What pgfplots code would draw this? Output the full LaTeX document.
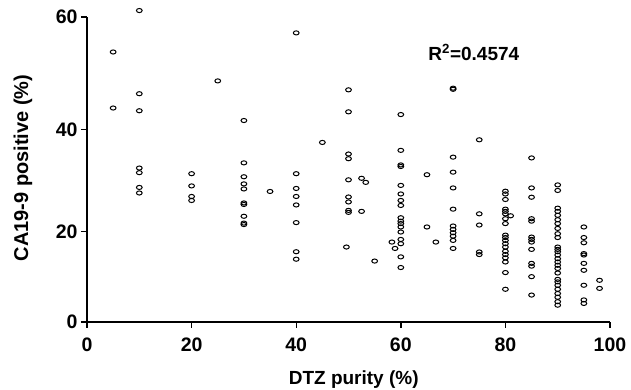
\documentclass[border=0pt]{standalone}
\usepackage{pgfplots}
\pgfplotsset{compat=1.18}
\usepackage{fontspec}
\setmainfont{Liberation Sans}
\begin{document}
\begin{tikzpicture}
\begin{axis}[
  at={(0,0)}, anchor=south west,
  scale only axis, width=523pt, height=305pt,
  xmin=0, xmax=100, ymin=0, ymax=60,
  y coord trafo/.code={\pgfmathparse{#1+0.003216*#1*#1}},
  axis x line*=bottom, axis y line*=left,
  axis line style={line width=1.6pt, black, -},
  xtick={0,20,40,60,80,100},
  ytick={0,20,40,60}, yticklabels={0,20,40,60},
  tick align=outside, major tick length=6pt,
  tick style={line width=1.4pt, black},
  /pgf/number format/assume math mode=true,
  tick label style={font=\fontsize{19.5}{22}\selectfont\bfseries},
  xticklabel style={yshift=-6pt},
  xlabel={DTZ purity (\%)}, ylabel={CA19-9 positive (\%)},
  xlabel style={font=\fontsize{19}{22}\selectfont\bfseries, at={(axis description cs:0.51,-0.205)}, anchor=base},
  ylabel style={font=\fontsize{20}{23}\selectfont\bfseries, at={(axis description cs:-0.1128,0.505)}, anchor=base},
  clip=false,
]
\addplot[only marks, mark=o, mark size=2.3pt, mark options={line width=1pt, xscale=1.25, yscale=0.9, black}] coordinates {
(5,54.0) (5,44.0)
(10,61.1) (10,46.6) (10,43.5) (10,32.7) (10,31.8) (10,28.9) (10,27.8)
(20,31.6) (20,29.2) (20,27.1) (20,26.3)
(25,48.9)
(30,41.7) (30,33.7) (30,31.0) (30,29.6) (30,28.6) (30,25.8) (30,25.5) (30,23.1) (30,21.7) (30,21.4)
(35,28.1)
(40,57.3) (40,31.6) (40,28.7) (40,27.1) (40,25.4) (40,21.8) (40,15.7) (40,14.1)
(45,37.6)
(50,47.3) (50,43.3) (50,35.4) (50,34.5) (50,30.4) (50,27.0) (50,26.0) (50,24.3) (50,23.9) (49.6,16.7)
(52.5,30.7) (52.5,24.1) (53.3,29.9)
(55,13.7) (58.3,17.75) (58.9,16.4)
(60,42.8) (60,36.1) (60,33.3) (60,33.0) (60,29.3) (60,27.6) (60,26.3) (60,25.3) (60,22.8) (60,22.1) (60,21.6) (60,20.9) (60,19.85) (60,18.3) (60,17.4) (60,14.6) (60,12.3)
(65,31.4) (65,20.9) (66.7,17.75)
(70,47.4) (70,47.6) (70,34.8) (70,31.9) (70,28.8) (70,24.55) (70,21.1) (70,20.4) (70,19.7) (70,19.0) (70,18.1) (70,16.4)
(75,38.1) (75,23.6) (75,21.3) (75,15.65) (75,15.1)
(80,28.15) (80,27.6) (80,26.5) (80,24.55) (80,24.1) (80,23.6) (80,22.6) (80,21.6) (80,19.2) (80,18.7) (80,18.1) (80,17.4) (80,16.7) (80,15.8) (80,15.1) (80,14.4) (80,13.5) (80,11.2) (80,7.5)
(81,23.2)
(85,34.65) (85,28.8) (85,26.95) (85,22.6) (85,22.1) (85,18.8) (85,18.3) (85,17.75) (85,16.2) (85,13.2) (85,12.6) (85,10.3) (85,6.2)
(90,29.4) (90,28.3) (90,24.75) (90,24.1) (90,23.3) (90,22.4) (90,21.6) (90,20.6) (90,19.5) (90,18.7) (90,16.7) (90,16.2) (90,15.7) (90,15.0) (90,14.2) (90,13.5) (90,12.8) (90,12.1) (90,11.1) (90,9.7) (90,9.15) (90,8.4) (90,7.5) (90,6.55) (90,5.7) (90,4.7) (90,3.9)
(95,20.9) (95,18.7) (95,17.6) (95,15.3) (95,15.0) (95,13.2) (95,11.7) (95,8.4) (95,5.1) (95,4.3)
(98,9.5) (98,7.7)
};
\node[anchor=base west, font=\fontsize{19}{22}\selectfont\bfseries] at (rel axis cs:0.646,0.859) {R\textsuperscript{2}=0.4574};
\end{axis}
\pgfresetboundingbox
\useasboundingbox (-87pt,-68pt) rectangle (544pt,322pt);
\end{tikzpicture}
\end{document}
